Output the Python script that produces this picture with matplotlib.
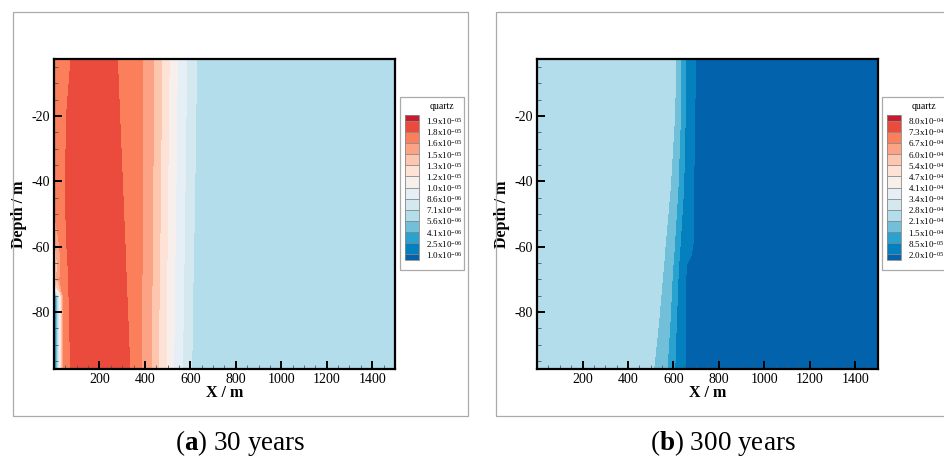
import matplotlib
matplotlib.use("Agg")
import matplotlib.pyplot as plt
import numpy as np
from matplotlib.colors import ListedColormap, BoundaryNorm
from matplotlib.patches import Rectangle
from matplotlib.ticker import MultipleLocator

plt.rcParams["font.family"] = ["Liberation Serif", "DejaVu Serif"]
plt.rcParams["mathtext.fontset"] = "custom"
plt.rcParams["mathtext.rm"] = "Liberation Serif"
plt.rcParams["mathtext.bf"] = "Liberation Serif:bold"
plt.rcParams["axes.unicode_minus"] = False

# legend colours, lowest band first (first = under, last = over)
band_colors = ["#0263AC", "#0580BE", "#2AA2D0", "#72BFDA", "#B3DDEB", "#D3E8EF",
               "#E6EEF6", "#F6EFEB", "#FDE2D5", "#FDC6AE", "#FCA385", "#FC7F5B",
               "#EA4B3C", "#CB1A2C"]

# ---- (a) 30 years ----
levels_a = [1.0e-6, 2.5e-6, 4.1e-6, 5.6e-6, 7.1e-6, 8.6e-6, 1.0e-5,
            1.2e-5, 1.3e-5, 1.5e-5, 1.6e-5, 1.8e-5, 1.9e-5]
labels_a = ["1.0x10^{-06}", "2.5x10^{-06}", "4.1x10^{-06}", "5.6x10^{-06}",
            "7.1x10^{-06}", "8.6x10^{-06}", "1.0x10^{-05}", "1.2x10^{-05}",
            "1.3x10^{-05}", "1.5x10^{-05}", "1.6x10^{-05}", "1.8x10^{-05}",
            "1.9x10^{-05}"]
depth_a = [-2.5, -20, -40, -52, -60, -66, -70, -73, -75, -80, -97.5]
# values near the left boundary (x = 0, 10, 20, 30, 42 m)
strip_x_a = [0, 10, 20, 30, 42]
strip_vals_a = [
    [1.70e-5, 1.70e-5, 1.70e-5, 1.71e-5, 1.73e-5],
    [1.70e-5, 1.70e-5, 1.70e-5, 1.71e-5, 1.73e-5],
    [1.64e-5, 1.67e-5, 1.70e-5, 1.71e-5, 1.73e-5],
    [1.57e-5, 1.61e-5, 1.66e-5, 1.70e-5, 1.73e-5],
    [1.47e-5, 1.52e-5, 1.57e-5, 1.63e-5, 1.72e-5],
    [1.38e-5, 1.45e-5, 1.53e-5, 1.59e-5, 1.70e-5],
    [1.45e-5, 1.50e-5, 1.56e-5, 1.63e-5, 1.72e-5],
    [1.10e-5, 1.20e-5, 1.38e-5, 1.56e-5, 1.72e-5],
    [0.30e-5, 0.40e-5, 0.75e-5, 1.25e-5, 1.65e-5],
    [0.25e-5, 0.35e-5, 0.70e-5, 1.20e-5, 1.62e-5],
    [0.25e-5, 0.35e-5, 0.70e-5, 1.20e-5, 1.62e-5],
]
# x position (m) of each iso-line per depth row
red_left_a = [75, 55, 51, 53, 57, 62, 64, 65, 66, 68, 73]
red_mid_a = [180, 180, 180, 180, 180, 185, 185, 185, 190, 190, 200]
red_right_a = [279, 289, 301, 308, 313, 316, 318, 320, 321, 324, 334]
iso16_a = [390, 389, 389, 388, 388, 388, 387, 387, 387, 387, 386]
iso15_a = [440, 438, 435, 434, 433, 432, 432, 431, 431, 430, 428]
iso13_a = [475, 472, 469, 467, 466, 465, 464, 464, 463, 462, 460]
iso12_a = [507, 504, 501, 499, 498, 497, 496, 496, 495, 495, 493]
iso10_a = [543, 540, 537, 535, 533, 532, 531, 531, 530, 529, 527]
iso086_a = [584, 581, 577, 575, 573, 572, 571, 570, 570, 569, 565]
iso071_a = [628, 624, 620, 617, 615, 613, 612, 611, 611, 610, 606]
edge_a = [1500] * len(depth_a)
iso_vals_a = [1.8e-5, 1.86e-5, 1.8e-5, 1.6e-5, 1.5e-5, 1.3e-5, 1.2e-5,
              1.0e-5, 8.6e-6, 7.1e-6, 6.3e-6]

# ---- (b) 300 years ----
levels_b = [2.0e-5, 8.5e-5, 1.5e-4, 2.1e-4, 2.8e-4, 3.4e-4, 4.1e-4,
            4.7e-4, 5.4e-4, 6.0e-4, 6.7e-4, 7.3e-4, 8.0e-4]
labels_b = ["2.0x10^{-05}", "8.5x10^{-05}", "1.5x10^{-04}", "2.1x10^{-04}",
            "2.8x10^{-04}", "3.4x10^{-04}", "4.1x10^{-04}", "4.7x10^{-04}",
            "5.4x10^{-04}", "6.0x10^{-04}", "6.7x10^{-04}", "7.3x10^{-04}",
            "8.0x10^{-04}"]
depth_b = [-2.5, -20, -42, -60, -63, -65.5, -70, -83, -97.5]
left_b = [0] * len(depth_b)
iso21_b = [611, 605, 586, 563, 560, 557, 551, 535, 513]
iso15_b = [633, 631, 620, 604, 601, 598, 594, 585, 572]
iso085_b = [655, 652, 645, 629, 626, 623, 620, 613, 606]
iso020_b = [697, 694, 689, 686, 676, 658, 654, 653, 653]
edge_b = [1500] * len(depth_b)
iso_vals_b = [2.45e-4, 2.1e-4, 1.5e-4, 8.5e-5, 2.0e-5, 1.0e-5]


def build_grid(depth, x_cols, z_left, z_cols):
    X = np.column_stack(x_cols).astype(float)
    if z_left is not None:
        X = np.hstack([np.tile(strip_x_a, (len(depth), 1)), X])
    Y = np.tile(np.array(depth, dtype=float)[:, None], (1, X.shape[1]))
    Z = np.tile(np.array(z_cols, dtype=float), (len(depth), 1))
    if z_left is not None:
        Z = np.hstack([np.array(z_left, dtype=float), Z])
    return X, Y, Z


def draw_panel(fig, left, cb_left, X, Y, Z, levels, labels, frame_x, caption_x, caption):
    cmap = ListedColormap(band_colors[1:-1])
    cmap.set_under(band_colors[0])
    cmap.set_over(band_colors[-1])
    norm = BoundaryNorm(levels, cmap.N)

    ax = fig.add_axes([left, 0.1943, 0.3608, 0.6769])
    cs = ax.contourf(X, Y, Z, levels=levels, cmap=cmap, norm=norm, extend="both")
    ax.set_xlim(0, 1500)
    ax.set_ylim(-97.5, -2.5)
    ax.xaxis.set_minor_locator(MultipleLocator(50))
    ax.yaxis.set_minor_locator(MultipleLocator(5))
    ax.set_xticks([200, 400, 600, 800, 1000, 1200, 1400])
    ax.set_yticks([-20, -40, -60, -80])
    ax.tick_params(which="both", direction="in", top=False, right=False,
                   labelsize=10, pad=3)
    ax.tick_params(which="major", length=6, width=1.4)
    ax.tick_params(which="minor", length=3, width=0.6, color="#555555")
    for sp in ax.spines.values():
        sp.set_linewidth(1.6)
    ax.set_xlabel("X / m", fontsize=11.5, fontweight="bold", labelpad=-1)
    ax.set_ylabel("Depth / m", fontsize=11.5, fontweight="bold", labelpad=3)

    # outer frame of the panel
    fig.add_artist(Rectangle((frame_x, 0.0917), 0.4815, 0.882, transform=fig.transFigure,
                             fill=False, edgecolor="#AAAAAA", linewidth=0.9))
    # legend box
    fig.add_artist(Rectangle((cb_left - 0.0053, 0.4105), 0.0677, 0.3777,
                             transform=fig.transFigure, fill=False,
                             edgecolor="#AAAAAA", linewidth=0.9))
    fig.text(cb_left + 0.039, 0.768, "quartz", fontsize=7, ha="center", va="center")

    cax = fig.add_axes([cb_left, 0.4323, 0.0148, 0.3166])
    cb = fig.colorbar(cs, cax=cax, extend="both", extendrect=True, extendfrac=0.042,
                      drawedges=True, ticks=levels)
    cb.ax.set_yticklabels([r"$\mathregular{" + t + "}$" for t in labels], fontsize=6.5)
    cb.ax.tick_params(length=0, pad=5)
    cb.ax.minorticks_off()
    cb.outline.set_edgecolor("#888888")
    cb.outline.set_linewidth(0.6)
    cb.dividers.set_color("#888888")
    cb.dividers.set_linewidth(0.6)

    fig.text(caption_x, 0.033, caption, fontsize=19.5, ha="center", va="center")
    return ax


fig = plt.figure(figsize=(9.45, 4.58), dpi=100)

Xa, Ya, Za = build_grid(depth_a,
                        [red_left_a, red_mid_a, red_right_a, iso16_a, iso15_a, iso13_a,
                         iso12_a, iso10_a, iso086_a, iso071_a, edge_a],
                        strip_vals_a, iso_vals_a)
draw_panel(fig, 0.0571, 0.4286, Xa, Ya, Za, levels_a, labels_a,
           0.01376, 0.254, r"($\mathbf{a}$) 30 years")

Xb, Yb, Zb = build_grid(depth_b, [left_b, iso21_b, iso15_b, iso085_b, iso020_b, edge_b],
                        None, iso_vals_b)
draw_panel(fig, 0.5683, 0.9383, Xb, Yb, Zb, levels_b, labels_b,
           0.5249, 0.765, r"($\mathbf{b}$) 300 years")

fig.savefig("out.png", dpi=100)
